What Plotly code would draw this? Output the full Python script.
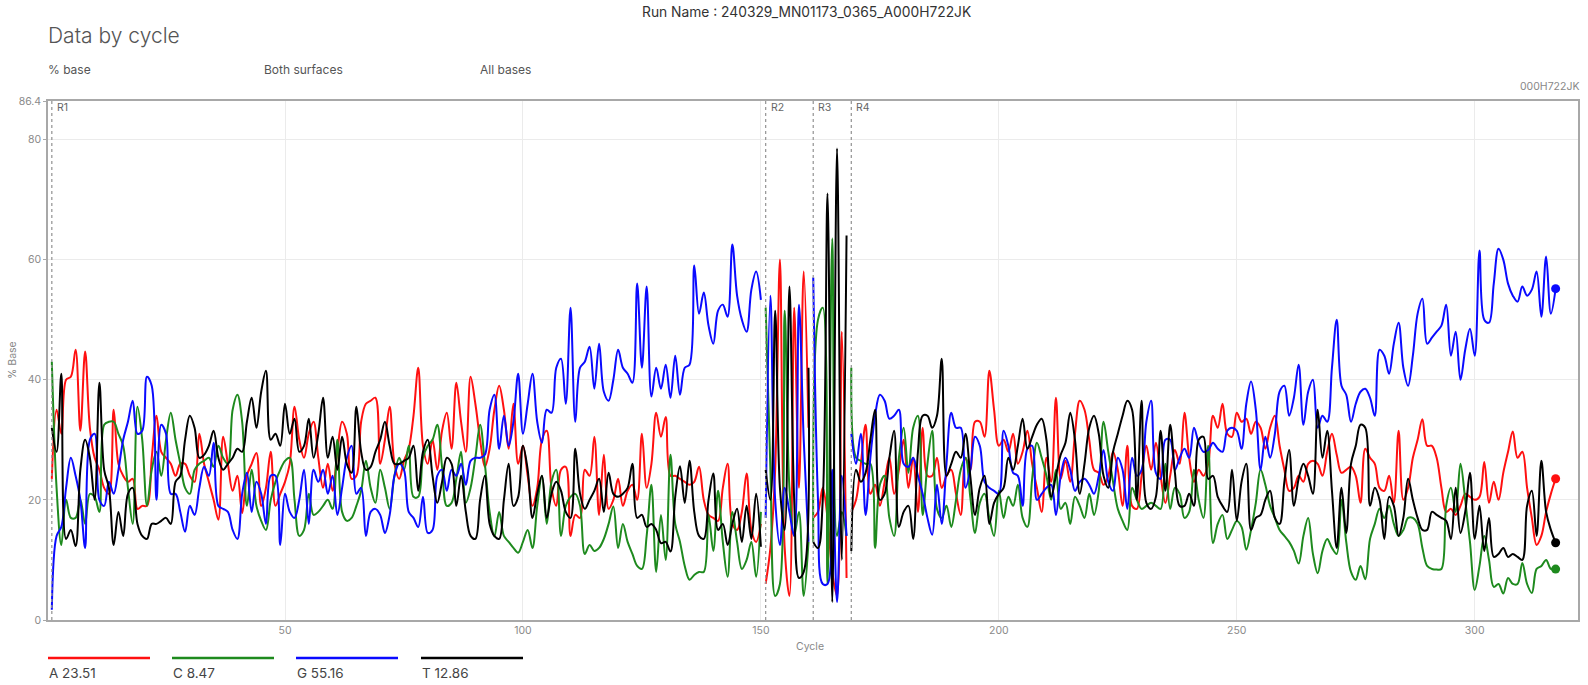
import plotly.graph_objects as go

# ---- data: percentage of each base per sequencing cycle ----
N_CYCLES = 317
READ_STARTS = [1, 151, 161, 169]
READ_LABELS = ["R1", "R2", "R3", "R4"]

A_VALUES = [
    # 1-54
    23.5, 35, 31, 40, 40.5, 45, 31.5, 44.7, 32, 27,
    25, 22, 21, 35, 26, 24, 23, 23.5, 18.5, 19,
    19, 27, 34, 28, 27, 26, 24, 26, 26, 24,
    23, 31, 26, 23, 20, 16.7, 30.5, 26, 21.5, 24,
    17.8, 24, 26, 27.8, 19, 22, 28, 19, 21, 23,
    26, 35.5, 30, 27,
    # 55-107
    31, 33, 27, 22, 26, 21.5, 28, 33, 31, 23.5,
    24, 33, 36, 36.5, 37, 26, 30, 35.5, 26, 23.5,
    26.5, 28.5, 34, 42, 29, 26, 30, 25, 31.5, 34.5,
    28.5, 39.5, 33, 28, 40.5, 36, 30, 25.5, 28.5, 35,
    39, 35, 28.5, 36, 26, 29, 24, 19, 22, 30,
    31.5, 22, 19,
    # 108-150
    25, 25.5, 14, 17.5, 17, 25, 24, 30.5, 17.5, 27.5,
    18.5, 20, 23.5, 19, 21.5, 22.5, 20, 31, 22, 26,
    34.5, 30.5, 33.8, 24, 24, 23.5, 23, 22.5, 23, 25.5,
    20, 17.5, 17, 16.5, 22, 26, 16, 15, 18, 24.4,
    15, 13, 16,
    # 151-160
    6, 12, 25, 60, 12, 4, 52, 22, 58, 32,
    # 161-168
    17, 18, 22, 17, 8, 4, 48, 7,
    # 169-227
    18, 20, 26, 32.5, 21, 22.5, 19, 23, 27, 21,
    25, 30, 22, 27, 18, 32, 24, 24, 27, 22,
    24, 25, 21, 17.5, 27, 25, 33, 33, 30.5, 41.5,
    35, 29, 30, 28, 31, 26, 28, 31.5, 26, 22,
    18, 27, 23, 37, 23.5, 26.5, 23, 31, 36.5, 35,
    30, 25, 24.5, 22.5, 24, 28, 25, 19, 29,
    # 228-281
    19, 18.5, 24, 29, 25, 29.5, 24, 19.5, 24, 28.3,
    26, 34.5, 27, 23, 25, 24, 26, 34, 32, 36,
    31, 30.5, 34.5, 33, 33.5, 31, 33, 32, 28.5, 32,
    34, 29, 25, 21.5, 22, 24, 23, 26, 26.5, 26,
    24, 28, 31, 27.5, 24.5, 25, 25.5, 24, 19.5, 28.5,
    27, 26, 22, 21.5,
    # 282-317
    24, 19.5, 31.5, 20, 22, 27, 30, 33.4, 29, 29,
    27, 22, 18, 18.5, 17.5, 19, 21, 20.5, 20, 20.5,
    26.3, 19.5, 23, 20, 24.5, 28, 31.4, 27, 28, 22,
    17, 12.5, 14, 18, 21, 23.51,
]

C_VALUES = [
    # 1-54
    43, 22, 12.5, 20, 17, 17, 20, 16, 21, 20.5,
    18, 32.5, 33, 33, 31, 29, 22, 16, 35.5, 30,
    19, 25, 28, 24, 30, 34.5, 30, 26, 22, 21,
    25, 26, 26.5, 27, 25.5, 29, 27, 26, 35, 37.5,
    33, 19, 25, 19, 16.5, 15, 20, 23, 25, 26.5,
    27, 20, 14, 15,
    # 55-107
    21, 17.5, 18, 19, 20, 18.5, 30, 18, 16.5, 17,
    19, 21.5, 26.5, 22, 19.5, 25, 22, 18.5, 24, 27,
    25, 29, 20.5, 20.5, 27, 29, 30, 32.5, 25.5, 19,
    19.5, 23.5, 28, 19.5, 22, 27, 32.5, 26, 18, 13.9,
    18, 14, 13, 12, 11.2, 13, 15, 12, 19, 24,
    16, 23, 25,
    # 108-150
    14, 19, 20.5, 21, 19, 11, 12.5, 11.5, 12, 13.5,
    16, 18.9, 12, 16, 13, 11, 9, 8.5, 14, 22.5,
    8, 17.5, 10, 27.5, 16, 13, 9, 6.7, 7.5, 8,
    8, 17.5, 11.5, 21.5, 13, 7.2, 18, 13, 8.5, 10,
    13, 7.2, 18,
    # 151-160
    52, 25, 4, 6, 51.5, 22, 14, 18, 4, 13,
    # 161-168
    13, 50, 52, 6, 63.5, 14, 18, 14,
    # 169-227
    42, 27, 26.5, 26, 26, 12, 22.5, 24, 17, 14,
    27, 32, 24.5, 32, 34, 17.5, 26, 31.5, 18.5, 17,
    19, 15.5, 20, 25, 27, 20.5, 14.5, 19.5, 21, 17,
    14, 21.5, 17, 20.5, 19, 22.5, 17, 15.5, 23.5, 29.5,
    27, 24, 20, 25, 18.5, 19.5, 16, 20.5, 19, 17,
    21, 17.5, 21.5, 33, 28, 23, 18.5, 16.5, 15,
    # 228-281
    22, 20, 18.5, 19, 19.5, 19, 18.5, 26, 18.5, 22,
    21, 17, 18, 25, 20, 17, 29, 12.8, 16, 17.5,
    13.5, 15, 16.5, 15.5, 11.7, 15, 19.5, 25, 22.5, 19,
    17, 15, 14, 13, 11.5, 9.4, 14, 17, 11, 7.8,
    11.5, 13.5, 12, 11, 20, 13, 8, 6.7, 9, 6.8,
    13.5, 16, 18.5, 17,
    # 282-317
    19, 16, 14, 15, 17, 17, 16, 12, 9, 8.5,
    8.4, 8.5, 19, 22, 18, 26, 20, 13, 5, 9,
    14, 10, 5.5, 6, 4.4, 7, 6, 6, 9.5, 6,
    4.5, 8.5, 9, 10, 8.5, 8.47,
]

G_VALUES = [
    # 1-54
    1.7, 14, 15.5, 22, 27, 24, 20, 12, 30, 31,
    20, 19, 23, 21, 25, 30, 33, 36.5, 31, 31.5,
    40.5, 39, 20, 32.5, 31, 21, 21, 18, 14.7, 19,
    17.5, 22, 25.5, 24, 29.5, 19, 18.5, 18, 15, 13.5,
    21, 24.5, 18, 23, 21, 16, 24, 24, 12.5, 21,
    18, 17, 20, 25,
    # 55-107
    16, 25, 23, 25, 21, 24, 17.5, 22, 27, 29,
    21, 22, 14, 18, 18.5, 17.5, 14.5, 17.5, 24, 26,
    25, 18, 17, 15.5, 20.5, 14.5, 15, 24, 25, 21.5,
    25, 24, 26, 22.5, 26.5, 27, 27, 27.5, 35, 37.5,
    28.5, 34, 29, 33, 41, 31, 36, 41, 33, 29.5,
    35, 34.5, 42,
    # 108-150
    43.5, 36, 52, 33, 42, 43, 45.5, 38.5, 46, 38,
    36.5, 40, 45, 42, 41, 39.5, 56, 42, 55.5, 37.2,
    42, 38.5, 42.5, 37, 44, 37.5, 42, 42.5, 59, 51,
    54.5, 49, 46, 51.5, 52.5, 50.5, 62.5, 54, 50, 48,
    55, 58, 53.3,
    # 151-160
    17, 54, 20, 12.5, 22, 18, 14, 52.5, 30, 13,
    # 161-168
    57, 20, 6, 6, 25, 3, 24, 14,
    # 169-227
    31, 26, 31, 17.5, 27, 34, 37.5, 36.5, 33.5, 34,
    35, 26, 25.5, 27, 24, 21, 17, 14.2, 22.5, 16,
    26, 34.5, 32, 32, 22, 25, 30.5, 29, 23, 22,
    21.5, 21, 31.5, 29, 24.5, 24, 19, 28.5, 29, 20,
    21, 22, 22.5, 17.5, 24, 27, 25, 21.5, 23, 23.5,
    22.5, 21, 24, 28.3, 23, 21.5, 27, 25, 18.5,
    # 228-281
    27, 24, 25, 33, 36.5, 24.5, 23.5, 30, 30, 25,
    27, 28.5, 27, 32, 29.5, 28, 28.3, 29.5, 28.5, 28,
    31.5, 32, 31.5, 28.5, 36, 39.7, 35, 25, 30.5, 27,
    31, 38, 39, 34, 37, 42.5, 32.5, 38, 40, 32,
    34, 33, 42, 50, 39, 37.5, 33, 36, 38, 38.5,
    37, 34, 45, 44,
    # 282-317
    41, 46, 49.5, 42, 39, 44, 51, 53.5, 46, 47,
    48, 49, 52.5, 44, 48, 40, 45, 48.5, 44, 61.5,
    50, 49.5, 56, 61.8, 60, 56, 54, 53, 55.5, 54,
    55, 58, 50.5, 60.5, 51, 55.16,
]

T_VALUES = [
    # 1-54
    32, 28, 41, 13.5, 15, 12.3, 25, 30, 27, 20,
    39.5, 25, 22, 12.5, 18, 14, 21, 22, 16, 14,
    13.5, 16, 16, 16.5, 17, 16, 23, 24, 30, 34,
    32, 27, 27.5, 29, 31.5, 27, 25, 26, 27, 28.5,
    28, 33, 37, 32, 38, 41.5, 30, 31, 29, 36,
    31, 33.5, 28, 29,
    # 55-107
    33.5, 27, 31, 37, 27, 30.5, 25, 30.5, 26, 24.5,
    35.5, 28, 25, 25.5, 28, 30, 33, 29, 26, 26,
    26.5, 27, 29, 21.5, 28, 30, 24, 19.5, 23, 27,
    26, 19, 24, 18, 14, 13.5, 20, 24, 16, 14,
    13.5, 20, 26, 19, 20.5, 29, 25, 17, 21, 24,
    17, 21, 23,
    # 108-150
    21.5, 18, 17, 28.5, 21, 18.5, 20, 21.5, 23.5, 18,
    24.5, 21, 20.5, 21, 22, 26, 17, 17.5, 15.5, 16,
    15, 12.8, 13, 11.4, 20.5, 25.6, 19.5, 26.5, 18, 14,
    13.5, 20, 24.4, 15, 16, 12.5, 16, 18.5, 13, 19,
    13.5, 21, 12.2,
    # 151-160
    25, 20, 51.5, 22, 15, 55.5, 20, 7, 8, 42,
    # 161-168
    13, 12, 20, 71, 3, 78.5, 10, 64,
    # 169-227
    11.5, 25, 23, 24.5, 30, 35, 20, 21, 27, 31.5,
    15.5, 18, 19, 13.5, 28, 34, 34, 32, 34, 43.5,
    24, 26, 28, 27, 31, 24, 17.5, 22, 24, 16,
    19.5, 21, 22, 27, 25, 29, 33.5, 28.5, 30.5, 32.5,
    33.5, 30, 20.5, 24, 27.5, 29.5, 34.5, 30, 21, 26,
    32, 34, 31, 24, 22, 28, 31, 34, 36.5,
    # 228-281
    35, 20, 36.5, 19.5, 18.5, 20.5, 31.5, 21.5, 32.5, 24.5,
    19, 19, 21, 19, 30, 30.5, 23.5, 24, 20.5, 19,
    18, 25, 16.5, 23, 26, 15, 17, 17.5, 20, 21.5,
    17, 16, 23, 28.3, 19, 23.5, 26, 24, 21, 35,
    27, 31.5, 21.5, 12, 22, 14.5, 26, 29, 32.5, 32,
    19, 22, 20, 13.5,
    # 282-317
    20.5, 19, 14, 17, 23.5, 20, 17, 15, 15, 18,
    17.5, 17, 16.5, 13.5, 22, 14.5, 18, 24.5, 13.5, 19,
    11.5, 17, 10.5, 11, 12, 10.5, 11, 10.5, 10, 19,
    21.5, 14, 26.5, 18, 15, 12.86,
]

BASES = ["A", "C", "G", "T"]
SERIES = {"A": A_VALUES, "C": C_VALUES, "G": G_VALUES, "T": T_VALUES}
COLORS = {"A": "#ff1010", "C": "#1e8a1e", "G": "#0a0aff", "T": "#000000"}

for b in BASES:
    assert len(SERIES[b]) == N_CYCLES, (b, len(SERIES[b]))

CYCLES = list(range(1, N_CYCLES + 1))

# ---- geometry helpers (pixel -> paper coords) ----
W, H = 1588, 685
ML, MR, MT, MB = 48, 10, 101, 65
PW, PH = W - ML - MR, H - MT - MB


def px_x(x):
    return (x - ML) / PW


def px_y(y):
    return (H - MB - y) / PH


FONT = "Inter, Roboto, 'Noto Sans', sans-serif"

fig = go.Figure()


def split_reads(values):
    """Insert gaps between reads so each read is drawn as its own curve."""
    xs, ys = [], []
    for c, v in zip(CYCLES, values):
        if c in READ_STARTS[1:]:
            xs.append(None)
            ys.append(None)
        xs.append(c)
        ys.append(v)
    return xs, ys


for b in BASES:
    xs, ys = split_reads(SERIES[b])
    fig.add_trace(go.Scatter(
        x=xs, y=ys, mode="lines",
        line=dict(color=COLORS[b], width=2, shape="spline", smoothing=1.0),
        connectgaps=False, hoverinfo="skip", showlegend=False,
    ))
    # final value marker
    fig.add_trace(go.Scatter(
        x=[CYCLES[-1]], y=[SERIES[b][-1]], mode="markers",
        marker=dict(color=COLORS[b], size=9),
        hoverinfo="skip", showlegend=False,
    ))

shapes = []
annotations = []

# read boundary markers
for start, label in zip(READ_STARTS, READ_LABELS):
    shapes.append(dict(
        type="line", xref="x", yref="paper", x0=start, x1=start, y0=0, y1=1,
        line=dict(color="#9a9a9a", width=1.3, dash="dot"),
    ))
    annotations.append(dict(
        x=start, y=px_y(107), xref="x", yref="paper", text=label,
        showarrow=False, xanchor="left", yanchor="middle", xshift=3,
        font=dict(family=FONT, size=10.5, color="#666666"),
    ))

# header texts
annotations += [
    dict(x=px_x(806), y=px_y(12), xref="paper", yref="paper",
         text="Run Name : 240329_MN01173_0365_A000H722JK", showarrow=False,
         xanchor="center", yanchor="middle",
         font=dict(family=FONT, size=13.8, color="#333333")),
    dict(x=px_x(46), y=px_y(36), xref="paper", yref="paper",
         text="Data by cycle", showarrow=False, xanchor="left", yanchor="middle",
         font=dict(family=FONT, size=21, color="#555555", weight=300)),
    dict(x=px_x(46), y=px_y(69), xref="paper", yref="paper", text="% base",
         showarrow=False, xanchor="left", yanchor="middle",
         font=dict(family=FONT, size=12, color="#555555")),
    dict(x=px_x(262), y=px_y(69), xref="paper", yref="paper", text="Both surfaces",
         showarrow=False, xanchor="left", yanchor="middle",
         font=dict(family=FONT, size=12, color="#555555")),
    dict(x=px_x(478), y=px_y(69), xref="paper", yref="paper", text="All bases",
         showarrow=False, xanchor="left", yanchor="middle",
         font=dict(family=FONT, size=12, color="#555555")),
    dict(x=px_x(1581), y=px_y(87), xref="paper", yref="paper", text="000H722JK",
         showarrow=False, xanchor="right", yanchor="middle",
         font=dict(family=FONT, size=10.5, color="#888888")),
    dict(x=px_x(12), y=px_y(360), xref="paper", yref="paper", text="% Base",
         showarrow=False, textangle=-90, xanchor="center", yanchor="middle",
         font=dict(family=FONT, size=10.5, color="#888888")),
    dict(x=px_x(810), y=px_y(646), xref="paper", yref="paper", text="Cycle",
         showarrow=False, xanchor="center", yanchor="middle",
         font=dict(family=FONT, size=10.5, color="#888888")),
]

# legend below the plot: coloured bar + base label with final value
LEGEND_X = [48, 172, 296, 421]
for b, lx in zip(BASES, LEGEND_X):
    shapes.append(dict(
        type="line", xref="paper", yref="paper",
        x0=px_x(lx), x1=px_x(lx + 102), y0=px_y(658), y1=px_y(658),
        line=dict(color=COLORS[b], width=2.5),
    ))
    annotations.append(dict(
        x=px_x(lx - 1), y=px_y(673), xref="paper", yref="paper",
        text=f"{b} {SERIES[b][-1]:.2f}", showarrow=False,
        xanchor="left", yanchor="middle",
        font=dict(family=FONT, size=13.5, color="#444444"),
    ))

fig.update_layout(
    width=W, height=H,
    margin=dict(l=ML, r=MR, t=MT, b=MB, autoexpand=False),
    paper_bgcolor="white", plot_bgcolor="white",
    font=dict(family=FONT),
    shapes=shapes, annotations=annotations,
    xaxis=dict(
        range=[0.2, 321.7], tickvals=[50, 100, 150, 200, 250, 300],
        showgrid=True, gridcolor="#ebebeb", gridwidth=1,
        showline=True, mirror=True, linecolor="#a8a8a8", linewidth=1.5,
        zeroline=False, ticks="", tickfont=dict(family=FONT, size=10.5, color="#8a8a8a"),
    ),
    yaxis=dict(
        range=[0, 86.4], tickvals=[0, 20, 40, 60, 80, 86.4],
        ticktext=["0", "20", "40", "60", "80", "86.4"],
        showgrid=True, gridcolor="#ebebeb", gridwidth=1,
        showline=True, mirror=True, linecolor="#a8a8a8", linewidth=1.5,
        zeroline=False, ticks="outside", ticklen=3, tickcolor="#a8a8a8",
        tickfont=dict(family=FONT, size=10.5, color="#8a8a8a"),
    ),
)

fig.write_html("out.html")
